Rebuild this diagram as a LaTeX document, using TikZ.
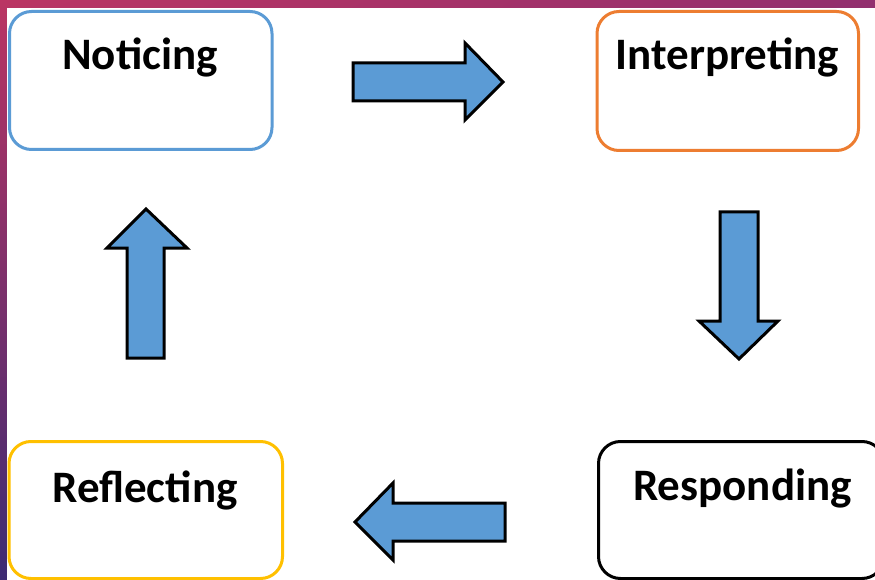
\documentclass[tikz,border=0pt]{standalone}
\usepackage{fontspec}
\setmainfont{Carlito}
\usetikzlibrary{shadings}
\definecolor{bgA}{HTML}{BB3563}
\definecolor{bgB}{HTML}{922F6E}
\definecolor{bgC}{HTML}{3C2B73}
\definecolor{bgD}{HTML}{5A2C70}
\definecolor{cblue}{HTML}{5B9BD5}
\definecolor{corange}{HTML}{ED7D31}
\definecolor{cyellow}{HTML}{FFC000}
\definecolor{afill}{HTML}{5B9BD5}
\tikzset{
  stagebox/.style={draw, line width=3pt, rounded corners=22pt, fill=white},
  stagelabel/.style={anchor=base, font=\fontsize{45}{50}\selectfont\bfseries, inner sep=0pt},
  blockarrow/.style={draw=black, line width=3pt, fill=afill, line join=miter}
}
\begin{document}
\begin{tikzpicture}[x=1pt,y=-1pt]
\useasboundingbox (0,0) rectangle (875,580);
\clip (0,0) rectangle (875,580);
% background
\shade[upper left=bgA, upper right=bgB, lower left=bgC, lower right=bgD] (0,0) rectangle (875,580);
\fill[white] (7,8) rectangle (880,585);
% boxes
\draw[stagebox, draw=cblue] (9.5,11.5) rectangle (272,149.5);
\draw[stagebox, draw=corange] (597,11.5) rectangle (858.5,150.5);
\draw[stagebox, draw=cyellow] (9,441.5) rectangle (282.5,578.5);
\draw[stagebox, draw=black] (598.5,441.5) rectangle (884,578.5);
% labels
\node[stagelabel] (noticing) at (140,70) {Noticing};
\node[stagelabel] (interpreting) at (727.5,70) {Interpreting};
\node[stagelabel] (reflecting) at (145,502) {Reflecting};
\node[stagelabel] (responding) at (742.5,500) {Responding};
% block arrows
\draw[blockarrow] (353,63) -- (465,63) -- (465,43) -- (503,82) -- (465,120) -- (465,101) -- (353,101) -- cycle;
\draw[blockarrow] (720,212) -- (758,212) -- (758,321) -- (778,321) -- (739,359) -- (699,321) -- (720,321) -- cycle;
\draw[blockarrow] (505,503) -- (393,503) -- (393,483) -- (355,522) -- (393,560) -- (393,541) -- (505,541) -- cycle;
\draw[blockarrow] (127,358) -- (127,248) -- (107,248) -- (146,209) -- (187,248) -- (164,248) -- (164,358) -- cycle;
\end{tikzpicture}
\end{document}
